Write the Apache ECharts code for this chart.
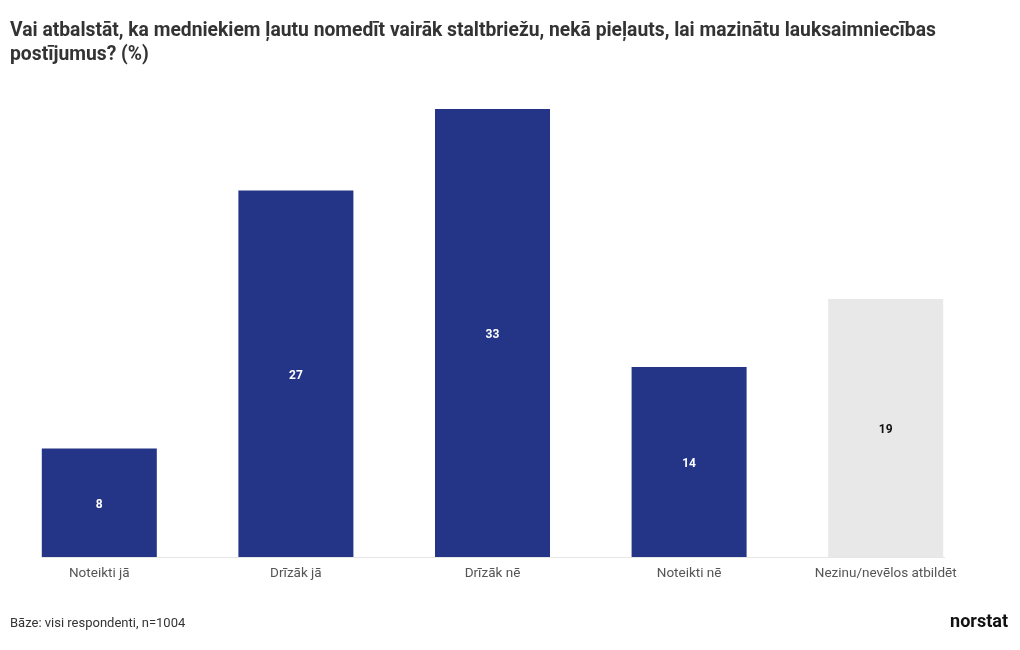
<!DOCTYPE html>
<html><head><meta charset="utf-8">
<script src="https://cdn.jsdelivr.net/npm/echarts@6/dist/echarts.min.js"></script>
<style>html,body{margin:0;padding:0;background:#fff}#c{width:1020px;height:650px}</style>
</head><body><div id="c"></div>
<script>
const categories = ['Noteikti jā', 'Drīzāk jā', 'Drīzāk nē', 'Noteikti nē', 'Nezinu/nevēlos atbildēt'];
const values = [8, 27, 33, 14, 19];
const barColors = ['#243588', '#243588', '#243588', '#243588', '#e8e8e8'];
const labelColors = ['#ffffff', '#ffffff', '#ffffff', '#ffffff', '#111111'];

const FONT = 'Roboto, "Noto Sans", sans-serif';
const chart = echarts.init(document.getElementById('c'));
chart.setOption({
  animation: false,
  textStyle: { fontFamily: FONT },
  title: [{
    text: 'Vai atbalstāt, ka medniekiem ļautu nomedīt vairāk staltbriežu, nekā pieļauts, lai mazinātu lauksaimniecības\npostījumus? (%)',
    left: 5, top: 14,
    textStyle: { fontSize: 19.3, fontWeight: 'bold', color: '#333333', lineHeight: 24, fontFamily: FONT }
  }, {
    text: 'Bāze: visi respondenti, n=1004',
    left: 5, top: 612,
    textStyle: { fontSize: 13, fontWeight: 'normal', color: '#333333', fontFamily: FONT }
  }, {
    text: 'norstat',
    right: 7, top: 608,
    textStyle: { fontSize: 18, fontWeight: 'bold', color: '#111111', fontFamily: FONT }
  }],
  grid: { left: 1, right: 36, top: 109, bottom: 93, containLabel: false },
  xAxis: {
    type: 'category',
    data: categories,
    axisLine: { show: false },
    axisTick: { show: false },
    axisLabel: { color: '#555555', fontSize: 13.5, margin: 10, fontFamily: FONT }
  },
  yAxis: {
    type: 'value', min: 0, max: 33,
    show: false,
    splitLine: { show: false }
  },
  graphic: [{
    type: 'line',
    shape: { x1: 41, y1: 557.5, x2: 945, y2: 557.5 },
    style: { stroke: '#e6e6e6', lineWidth: 1 },
    z: 0
  }],
  series: [{
    type: 'bar',
    barWidth: '58.5%',
    data: values.map((v, i) => ({
      value: v,
      itemStyle: { color: barColors[i] },
      label: { color: labelColors[i] }
    })),
    label: {
      show: true, position: 'inside', offset: [0, 2],
      fontSize: 12, fontWeight: 'bold', fontFamily: FONT
    },
    z: 2
  }]
});
</script></body></html>
